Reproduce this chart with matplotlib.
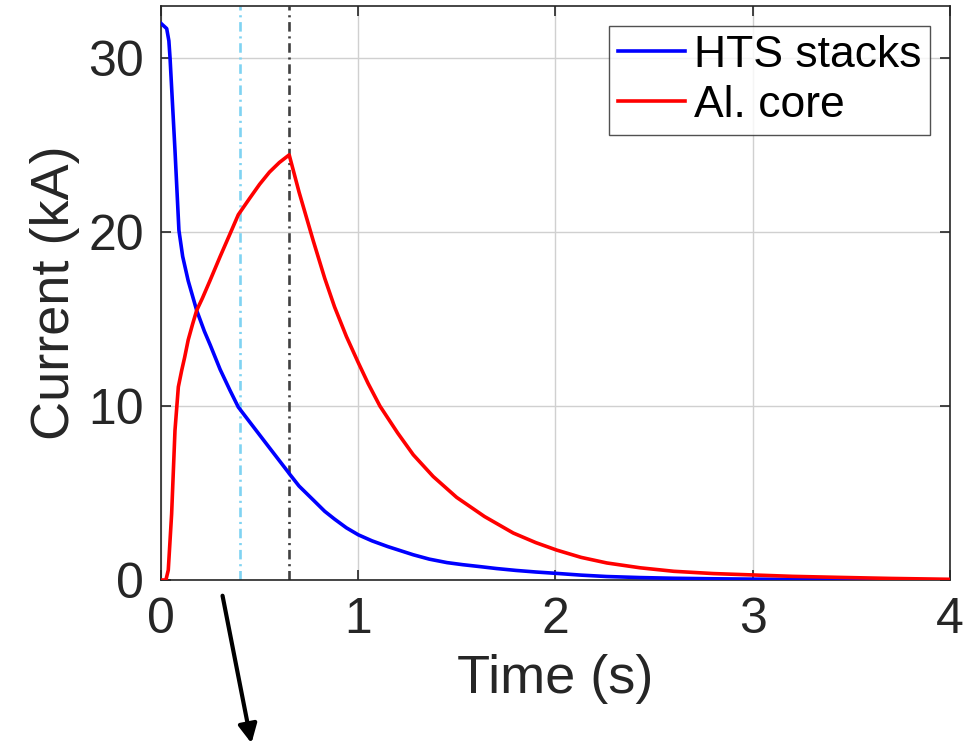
import numpy as np
import matplotlib
matplotlib.use("Agg")
import matplotlib.pyplot as plt

plt.rcParams['font.family'] = ['Liberation Sans', 'DejaVu Sans']

# HTS stacks current (kA) vs time (s)
t_hts = [0, 0.029, 0.04, 0.046, 0.071, 0.091, 0.11, 0.138, 0.181, 0.22, 0.25,
         0.3, 0.35, 0.392, 0.45, 0.527, 0.59, 0.645, 0.65, 0.7, 0.772, 0.83,
         0.88, 0.94, 1.0, 1.07, 1.15, 1.279, 1.36, 1.45, 1.53, 1.617, 1.7,
         1.8, 1.9, 2.006, 2.13, 2.26, 2.43, 2.6, 2.8, 3.0, 3.5, 4.0]
I_hts = [32.0, 31.7, 31.0, 30.0, 24.7, 20.1, 18.6, 17.2, 15.5, 14.3, 13.5,
         12.1, 10.9, 9.94, 9.08, 7.94, 7.01, 6.2, 6.12, 5.4, 4.6, 3.95,
         3.5, 3.0, 2.6, 2.25, 1.92, 1.45, 1.2, 1.0, 0.88, 0.77, 0.66,
         0.55, 0.46, 0.38, 0.28, 0.2, 0.14, 0.1, 0.07, 0.05, 0.02, 0.01]

# Al. core current (kA) vs time (s)
t_al = [0, 0.025, 0.037, 0.054, 0.071, 0.088, 0.105, 0.12, 0.138, 0.16,
        0.181, 0.21, 0.248, 0.3, 0.35, 0.392, 0.45, 0.5, 0.55, 0.6, 0.65,
        0.7, 0.772, 0.83, 0.88, 0.94, 1.0, 1.05, 1.11, 1.2, 1.279, 1.38,
        1.499, 1.64, 1.786, 1.9, 2.006, 2.13, 2.26, 2.43, 2.6, 2.8, 3.0,
        3.2, 3.44, 3.7, 4.0]
I_al = [0, 0.0, 0.57, 3.8, 8.6, 11.1, 12.05, 12.8, 13.8, 14.7,
        15.5, 16.2, 17.2, 18.6, 19.9, 21.0, 21.95, 22.75, 23.45, 24.0, 24.44,
        22.3, 19.5, 17.35, 15.7, 14.0, 12.5, 11.3, 10.0, 8.45, 7.2, 5.95,
        4.75, 3.65, 2.7, 2.15, 1.72, 1.3, 0.98, 0.7, 0.5, 0.37, 0.29,
        0.21, 0.15, 0.09, 0.04]

t_marks = [0.4, 0.65]
mark_colors = ['#7fd3f2', '#404040']

fig = plt.figure(figsize=(9.68, 7.48), dpi=100)
ax = fig.add_axes([0.1663, 0.2246, 0.8151, 0.7674])

ax.plot(t_hts, I_hts, color=(0, 0, 1), lw=2.6, label='HTS stacks', zorder=3)
ax.plot(t_al, I_al, color=(1, 0, 0), lw=2.6, label='Al. core', zorder=3)
for tm, c in zip(t_marks, mark_colors):
    ax.axvline(tm, color=c, lw=1.9, ls=(0, (3.6, 1.8, 0.8, 1.8)), zorder=2)

ax.set_xlim(0, 4)
ax.set_ylim(0, 33)
ax.set_xticks([0, 1, 2, 3, 4])
ax.set_yticks([0, 10, 20, 30])
ax.grid(True, color='#d0d0d0', lw=1.0)
ax.set_axisbelow(True)

for s in ax.spines.values():
    s.set_color('#262626')
    s.set_linewidth(1.2)
ax.tick_params(direction='in', length=7, width=1.2, colors='#262626',
               top=True, right=True, labelsize=36, pad=12)
for lab in ax.get_xticklabels() + ax.get_yticklabels():
    lab.set_color('#262626')

ax.set_xlabel('Time (s)', fontsize=39, color='#262626', labelpad=8)
ax.set_ylabel('Current (kA)', fontsize=39, color='#262626', labelpad=6)

leg = ax.legend(loc='upper right', fontsize=32, frameon=True, fancybox=False,
                edgecolor='#262626', handlelength=1.5, handletextpad=0.2,
                borderpad=0.2, labelspacing=0.2, borderaxespad=0.45)
leg.get_frame().set_linewidth(1.0)

# arrow below the axes
ax.annotate('', xy=(252 / 968, 1 - 746 / 748), xycoords='figure fraction',
            xytext=(222 / 968, 1 - 593 / 748), textcoords='figure fraction',
            arrowprops=dict(arrowstyle='-|>', color='black', lw=3,
                            mutation_scale=28))

fig.savefig('out.png', dpi=100)
